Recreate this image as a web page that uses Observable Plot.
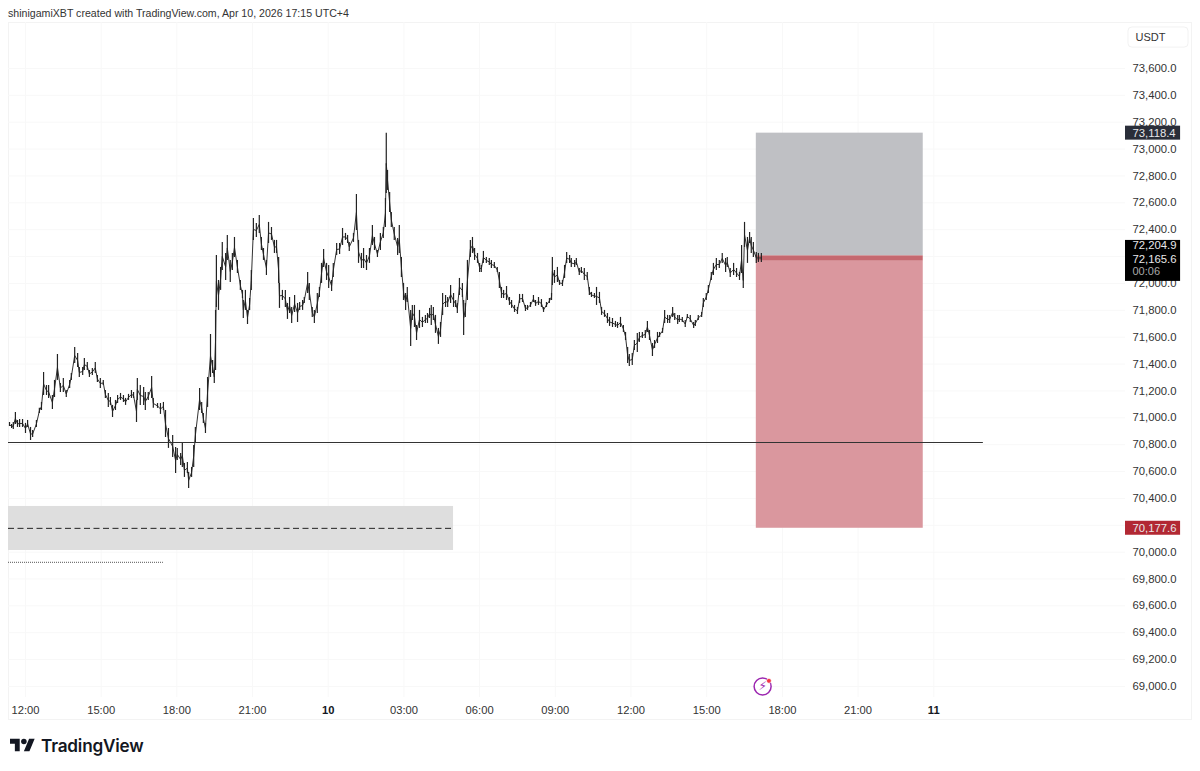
<!DOCTYPE html>
<html>
<head>
<meta charset="utf-8">
<script src="https://cdn.jsdelivr.net/npm/d3@7"></script>
<script src="https://cdn.jsdelivr.net/npm/@observablehq/plot@0.6"></script>
<style>
  html, body { margin: 0; padding: 0; background: #fff; width: 1200px; height: 771px; overflow: hidden; }
  #title { position: absolute; left: 8px; top: 6px; font: 10.6px/14px "Liberation Sans", Arial, sans-serif; color: #333; white-space: nowrap; }
  #border { position: absolute; left: 8px; top: 22px; width: 1184px; height: 698px; border: 1px solid #f3f3f3; box-sizing: border-box; }
  #chart { position: absolute; left: 0; top: 22px; }
  #logo { position: absolute; left: 10px; top: 735px; display: flex; align-items: center; }
  #logo span { font: 600 17.2px/22px Inter, sans-serif; color: #131722; margin-left: 6px; letter-spacing: -0.2px; }
</style>
</head>
<body>
<div id="title">shinigamiXBT created with TradingView.com, Apr 10, 2026 17:15 UTC+4</div>
<div id="border"></div>
<div id="chart"></div>
<div id="logo"><svg width="25" height="19.5" viewBox="0 0 36 28"><path fill="#131722" d="M14 22H7V11H0V4h14v18zM28 22h-8l7.5-18h8L28 22z"/><circle fill="#131722" cx="20" cy="8" r="4"/></svg><span>TradingView</span></div>
<script>
// minutes after 12:00 on the 9th
const barTime = [-38,-33,-29,-24,-19,-14,-7,0,5,12,17,26,33,38,43,50,55,64,69,76,83,90,97,105,109,117,124,128,136,140,147,152,159,166,171,178,185,190,197,202,207,214,219,226,233,238,245,252,257,264,266,273,281,285,292,300,304,314,321,328,333,340,350,357,361,369,373,378,385,388,395,400,404,414,419,423,428,433,440,445,449,452,454,459,464,468,476,480,487,492,497,504,511,516,518,523,528,533,537,542,549,556,561,566,573,578,585,592,597,602,604,611,618,623,628,633,640,647,652,659,663,671,675,682,687,694,699,704,709,716,721,728,732,740,747,754,761,766,770,780,787,792,799,804,811,818,825,830,837,844,851,856,858,861,866,870,877,885,889,894,899,904,908,916,920,925,930,937,944,951,956,961,965,970,975,982,987,992,999,1004,1011,1018,1023,1027,1032,1039,1042,1046,1051,1058,1063,1068,1075,1080,1084,1089,1096,1103,1108,1115,1122,1127,1132,1137,1144,1151,1156,1163,1170,1175,1182,1189,1194,1201,1208,1213,1220,1227,1232,1239,1246,1251,1253,1258,1265,1270,1277,1282,1287,1294,1298,1306,1310,1317,1322,1329,1336,1341,1346,1353,1358,1365,1370,1377,1384,1389,1396,1403,1408,1415,1422,1427,1432,1436,1443,1448,1455,1460,1467,1474,1479,1484,1491,1496,1503,1508,1515,1520,1527,1532,1539,1544,1551,1555,1562,1569,1574,1581,1589,1593,1600,1608,1612,1619,1624,1631,1636,1643,1650,1657,1665,1669,1676,1684,1691,1698,1703,1707,1710,1717,1722,1726,1731,1738,1743,1750];
const barHigh = [70965,70950,70965,71040,70980,70987,70987,70958,70980,70928,70905,70980,71070,71114,71337,71240,71240,71166,71278,71471,71255,71293,71203,71278,71330,71523,71479,71374,71374,71441,71412,71352,71367,71412,71315,71293,71278,71203,71181,71151,71092,71129,71166,71181,71166,71144,71174,71203,71188,71129,71293,71240,71225,71188,71188,71307,71144,71106,71106,71114,71054,70920,70868,70779,70772,70734,70809,70660,70667,70593,70630,70794,70928,71218,71114,71032,70958,71300,71620,71427,71352,71799,72208,72022,72119,72305,72223,72357,72171,72223,72342,72171,72022,71948,71873,71948,71799,71888,72096,72483,72446,72506,72342,72260,72171,72454,72416,72320,72320,72193,72000,71948,71948,71851,71895,71821,71910,71851,71858,71873,71895,72082,72000,71821,71799,71925,71970,72149,72253,72149,72134,72022,72149,72297,72297,72409,72372,72357,72305,72372,72662,72320,72223,72260,72208,72260,72431,72342,72245,72372,72416,72632,73118,72841,72677,72528,72416,72335,72431,72193,72000,71925,71970,71799,71836,71836,71687,71799,71747,71762,71776,71814,71836,71821,71762,71665,71709,71925,71910,71895,71985,71925,71873,71851,72037,72000,71873,71851,72171,72320,72342,72260,72223,72149,72134,72238,72193,72186,72171,72156,72119,72082,71970,71948,71977,71895,71873,71836,71821,71918,71918,71836,71836,71858,71910,71873,71895,71880,71821,71858,71888,71925,72193,72096,72119,72022,72022,72134,72230,72208,72186,72171,72186,72111,72119,72111,72082,71970,71933,71925,71970,71933,71821,71799,71776,71747,71739,71717,71709,71747,71687,71635,71523,71471,71479,71575,71628,71635,71635,71650,71717,71650,71553,71575,71635,71635,71665,71799,71762,71762,71821,71776,71762,71762,71747,71724,71769,71762,71709,71724,71762,71784,71888,71925,71985,72082,72149,72186,72171,72223,72186,72193,72111,72149,72111,72082,72282,72082,72454,72342,72379,72342,72305,72230,72223,72223];
const barLow = [70935,70920,70913,70950,70928,70928,70928,70883,70928,70831,70853,70928,71032,71054,71166,71166,71144,71062,71151,71278,71188,71188,71151,71218,71278,71404,71374,71300,71315,71352,71352,71300,71315,71330,71263,71218,71240,71144,71077,71092,71002,71054,71106,71129,71114,71092,71129,71144,71144,70965,71129,71092,71092,71054,71129,71144,71070,71070,71025,71054,70853,70772,70705,70585,70682,70645,70630,70556,70585,70474,70556,70630,70809,71054,71032,70958,70883,71077,71300,71330,71255,71352,71821,71799,71948,72096,72022,72171,72007,72096,72193,72074,71948,71888,71739,71799,71694,71799,71948,72320,72342,72372,72245,72171,72059,72297,72320,72223,72223,72000,71814,71873,71821,71732,71776,71702,71784,71709,71799,71799,71851,71925,71873,71747,71702,71776,71895,72000,72119,72022,71962,71940,72044,72208,72215,72282,72320,72297,72238,72305,72394,72149,72111,72111,72096,72149,72282,72245,72193,72245,72335,72416,72669,72692,72528,72416,72320,72208,72223,72044,71873,71799,71858,71531,71724,71672,71575,71665,71672,71702,71702,71739,71687,71724,71628,71546,71598,71762,71821,71821,71851,71821,71821,71776,71910,71895,71613,71747,71873,72193,72223,72171,72149,72082,72082,72149,72149,72134,72111,72111,72082,71962,71888,71888,71873,71836,71814,71784,71769,71851,71858,71791,71799,71821,71858,71829,71836,71821,71784,71821,71851,71873,71985,72000,72007,71985,71977,72037,72149,72149,72119,72119,72134,72059,72074,72022,72022,71910,71895,71888,71836,71851,71762,71747,71702,71680,71672,71672,71665,71672,71635,71575,71404,71382,71389,71501,71486,71561,71590,71590,71635,71575,71456,71516,71553,71598,71628,71702,71702,71702,71747,71724,71694,71709,71709,71672,71739,71709,71665,71680,71724,71747,71821,71873,71925,72022,72059,72096,72111,72149,72082,72119,72044,72059,72044,72022,72074,71962,72268,72149,72297,72223,72193,72149,72156,72156];

// axes
const gridPrices = [69000,69200,69400,69600,69800,70000,70200,70400,70600,70800,71000,71200,71400,71600,71800,72000,72200,72400,72600,72800,73000,73200,73400,73600];
const priceLabels = gridPrices.filter(p => p !== 70200 && p !== 72200);
const hourTicks = [0,180,360,540,900,1080,1260,1440,1620,1800,1980];
const hourLabels = ["12:00","15:00","18:00","21:00","03:00","06:00","09:00","12:00","15:00","18:00","21:00"];
const dayTicks = [720,2160];
const dayLabels = ["10","11"];

// drawings
const supportLevel = 70816;
const zoneTop = 70340, zoneBottom = 70012, zoneMid = 70177;
const dottedLevel = 69923;
const stopPrice = 73118.4, entryPrice = 72204.9, lastPrice = 72165.6, targetPrice = 70177.6;

const xLeft = -40.4, xRight = 2616, xAxisEnd = 2747;
const positionStart = 1738, positionEnd = 2135;

const bars = barTime.map((t, i) => ({t, hi: barHigh[i], lo: barLow[i], mid: (barHigh[i] + barLow[i]) / 2}));
const faint = "#f8f8f8";
const fmtPrice = d3.format(",.1f");

const plot = Plot.plot({
  width: 1200, height: 700,
  marginLeft: 8, marginRight: 75, marginTop: 0, marginBottom: 25,
  style: {fontFamily: "'Liberation Sans', Arial, sans-serif", fontSize: "11px", background: "transparent", overflow: "visible"},
  x: {type: "linear", domain: [xLeft, xRight], axis: null},
  y: {type: "linear", domain: [68918, 73942], axis: null},
  marks: [
    Plot.ruleX([...hourTicks, ...dayTicks], {stroke: faint, strokeWidth: 1}),
    Plot.ruleY(gridPrices, {stroke: faint, strokeWidth: 1}),

    // zone + levels
    Plot.rect([0], {x1: xLeft, x2: 1018, y1: zoneBottom, y2: zoneTop, fill: "#dedede"}),
    Plot.ruleY([zoneMid], {x1: xLeft, x2: 1018, stroke: "#222", strokeWidth: 1, strokeDasharray: "6 3.5"}),
    Plot.ruleY([dottedLevel], {x1: xLeft, x2: 328, stroke: "#777", strokeWidth: 1.2, strokeDasharray: "1 1"}),

    // short position tool
    Plot.rect([0], {x1: positionStart, x2: positionEnd, y1: entryPrice, y2: stopPrice, fill: "#bfc0c4"}),
    Plot.rect([0], {x1: positionStart, x2: positionEnd, y1: targetPrice, y2: lastPrice, fill: "#da979e"}),
    Plot.rect([0], {x1: positionStart, x2: positionEnd, y1: lastPrice, y2: entryPrice, fill: "#c5686f"}),

    // price
    Plot.line(bars, {x: "t", y: "mid", stroke: "#333", strokeWidth: 1}),
    Plot.ruleX(bars, {x: "t", y1: "lo", y2: "hi", stroke: "#222", strokeWidth: 1.2}),

    Plot.ruleY([supportLevel], {x1: xLeft, x2: 2278, stroke: "#333", strokeWidth: 1.2}),

    // axes
    Plot.axisY({anchor: "right", ticks: priceLabels, tickSize: 0, tickPadding: 7, label: null,
      tickFormat: d => fmtPrice(d), fill: "#333", fontSize: 11.3}),
    Plot.text(hourTicks, {x: d => d, frameAnchor: "bottom", dy: 16, text: (d, i) => hourLabels[i], fill: "#333", fontSize: 11.2}),
    Plot.text(dayTicks, {x: d => d, frameAnchor: "bottom", dy: 16, text: (d, i) => dayLabels[i], fill: "#131722", fontSize: 11.2, fontWeight: 700}),

    // price tags
    Plot.rect([stopPrice], {x1: xRight, x2: xAxisEnd, y1: d => d + 52, y2: d => d - 52, fill: "#2a2e39"}),
    Plot.rect([targetPrice], {x1: xRight, x2: xAxisEnd, y1: d => d + 52, y2: d => d - 52, fill: "#b22833"}),
    Plot.rect([lastPrice], {x1: xRight, x2: xAxisEnd, y1: 72320, y2: 72015, fill: "#000"}),
    Plot.text([stopPrice, targetPrice], {x: xRight, dx: 7, y: d => d, text: d => fmtPrice(d), textAnchor: "start", fill: "#e8e8ea", fontSize: 11.3}),
    Plot.text([entryPrice], {x: xRight, dx: 7, y: d => d, dy: -11, text: d => fmtPrice(d), textAnchor: "start", fill: "#e8e8ea", fontSize: 11.3}),
    Plot.text([lastPrice], {x: xRight, dx: 7, y: d => d, dy: -2, text: d => fmtPrice(d), textAnchor: "start", fill: "#e8e8ea", fontSize: 11.3}),
    Plot.text(["00:06"], {x: xRight, dx: 7, y: lastPrice, dy: 10, text: d => d, textAnchor: "start", fill: "#a8a8a8", fontSize: 11}),

    // currency button
    Plot.rect([0], {x1: 2623, x2: 2766, y1: 73905, y2: 73755, fill: "none", stroke: "#f2f2f2", rx: 4}),
    Plot.text(["USDT"], {x: 2640, y: 73830, text: d => d, textAnchor: "start", fill: "#333", fontSize: 11}),

    // lightning badge
    Plot.dot([0], {x: 1753, y: 69000, r: 8.5, stroke: "#9c27b0", strokeWidth: 1.5, fill: "#fff"}),
    Plot.text(["\u26A1\uFE0E"], {x: 1753, y: 69000, text: d => d, fill: "#9c27b0", fontSize: 12, fontFamily: "DejaVu Sans"}),
    Plot.dot([0], {x: 1768, y: 69042, r: 2.4, fill: "#f23645", stroke: "#fff", strokeWidth: 0.6})
  ]
});
document.getElementById("chart").appendChild(plot);
</script>
</body>
</html>
